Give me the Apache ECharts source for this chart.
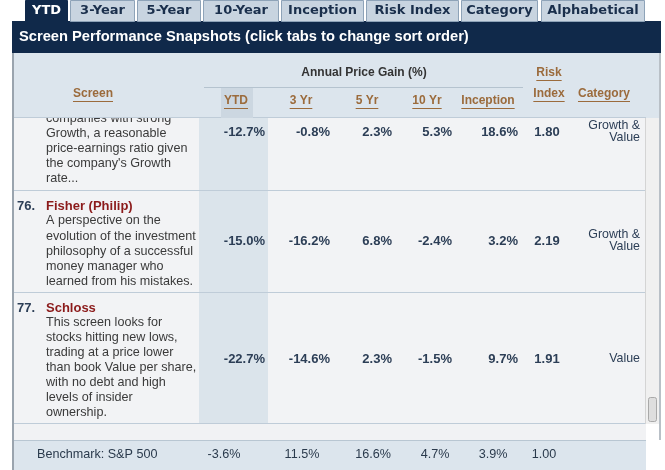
<!DOCTYPE html>
<html><head><meta charset="utf-8">
<script src="https://cdn.jsdelivr.net/npm/echarts@6/dist/echarts.min.js"></script>
<style>html,body{margin:0;padding:0;background:#fff;overflow:hidden}#c{width:665px;height:470px;}</style>
</head><body><div id="c"></div>
<script>
// ---------- data ----------
const tabs = ['YTD', '3-Year', '5-Year', '10-Year', 'Inception', 'Risk Index', 'Category', 'Alphabetical'];
const title = 'Screen Performance Snapshots (click tabs to change sort order)';
const groupHeader = 'Annual Price Gain (%)';
const columnLabels = ['YTD', '3 Yr', '5 Yr', '10 Yr', 'Inception'];
const rowNumbers = ['', '76.', '77.'];
const rowNames = ['', 'Fisher (Philip)', 'Schloss'];
const rowDescriptions = [
  ['companies with strong', 'Growth, a reasonable', 'price-earnings ratio given', 'the company\'s Growth', 'rate...'],
  ['A perspective on the', 'evolution of the investment', 'philosophy of a successful', 'money manager who', 'learned from his mistakes.'],
  ['This screen looks for', 'stocks hitting new lows,', 'trading at a price lower', 'than book Value per share,', 'with no debt and high', 'levels of insider', 'ownership.']
];
const ytd = [-12.7, -15.0, -22.7];
const yr3 = [-0.8, -16.2, -14.6];
const yr5 = [2.3, 6.8, 2.3];
const yr10 = [5.3, -2.4, -1.5];
const inception = [18.6, 3.2, 9.7];
const riskIndex = [1.80, 2.19, 1.91];
const categories = [['Growth &', 'Value'], ['Growth &', 'Value'], ['Value']];
const benchmarkLabel = 'Benchmark: S&P 500';
const benchmarkReturns = [-3.6, 11.5, 16.6, 4.7, 3.9];
const benchmarkRisk = 1.00;

// ---------- layout ----------
const L = {
  tabX: [[25, 68], [70, 135], [137, 201], [203, 279], [281, 364], [366, 459], [461, 538], [541, 645]],
  colRight: [265, 330, 392, 452, 518],
  colHeadCenter: [236, 301, 367, 427, 488],
  riskCenter: 547, catRight: 640,
  rowTop: [118, 190, 292], rowBottom: [190, 292, 423],
  descStart: [119, 221, 323], descGap: [15, 15.2, 15],
  titleY: [null, 206, 308], valueY: [132, 241, 359],
  benchX: [224, 302, 373, 435, 493, 544]
};
const F = '"Liberation Sans", Arial, sans-serif';
const C = {
  navy: '#10294a', tab: '#c8d4e0', tabBorder: '#8ea3b8', tabText: '#1a2f4c',
  head: '#dce5ed', headHi: '#ccd7e1', body: '#f2f3f5', ytdCol: '#dbe4eb',
  sep: '#bfccd8', val: '#2c3e56', desc: '#3a3a3a', name: '#8b1a1a', link: '#9b6b3c'
};

const chart = echarts.init(document.getElementById('c'), null, {renderer: 'canvas'});
const g = [];
const ctx = document.createElement('canvas').getContext('2d');
function tw(s, font) { ctx.font = font; return ctx.measureText(s).width; }
function rect(x, y, w, h, fill, z, stroke, r) {
  g.push({type: 'rect', silent: true, z: z || 0, shape: {x, y, width: w, height: h, r: r || 0},
    style: {fill, stroke: stroke || null, lineWidth: 1}});
}
function line(x1, y1, x2, y2, stroke, z, lw) {
  g.push({type: 'line', silent: true, z: z || 0, shape: {x1, y1, x2, y2}, style: {stroke, lineWidth: lw || 1}});
}
function text(s, x, y, font, fill, align, z) {
  g.push({type: 'text', silent: true, z: z || 0, x, y,
    style: {text: s, font, fill, align: align || 'left', verticalAlign: 'middle'}});
}
function link(s, cx, y, z) {
  const font = 'bold 12px ' + F;
  text(s, cx, y, font, C.link, 'center', z);
  const w = tw(s, font);
  line(cx - w / 2, y + 7.5, cx + w / 2, y + 7.5, C.link, z);
}
const pct = v => v.toFixed(1) + '%';

// body background
rect(14, 118, 632, 306, C.body, 1);
rect(199, 118, 69, 306, C.ytdCol, 2);
// row separators
for (let i = 0; i < 3; i++) line(14, L.rowBottom[i] + 0.5, 646, L.rowBottom[i] + 0.5, C.sep, 3);

// rows
const valueCols = [ytd, yr3, yr5, yr10, inception];
const descFont = '12.6px ' + F;
for (let i = 0; i < 3; i++) {
  if (rowNumbers[i]) {
    text(rowNumbers[i], 17, L.titleY[i], 'bold 13px ' + F, C.val, 'left', 4);
    text(rowNames[i], 46, L.titleY[i], 'bold 13px ' + F, C.name, 'left', 4);
  }
  rowDescriptions[i].forEach((s, k) => text(s, 46, L.descStart[i] + k * L.descGap[i], descFont, C.desc, 'left', 4));
  valueCols.forEach((arr, c) => text(pct(arr[i]), L.colRight[c], L.valueY[i], 'bold 13px ' + F, C.val, 'right', 4));
  text(riskIndex[i].toFixed(2), L.riskCenter, L.valueY[i], 'bold 13px ' + F, C.val, 'center', 4);
  const cat = categories[i];
  const catFont = '12.4px ' + F;
  if (cat.length === 2) {
    text(cat[0], L.catRight, L.valueY[i] - 6, catFont, C.val, 'right', 4);
    text(cat[1], L.catRight, L.valueY[i] + 6, catFont, C.val, 'right', 4);
  } else {
    text(cat[0], L.catRight, L.valueY[i], catFont, C.val, 'right', 4);
  }
}

// scrollbar
rect(646, 118, 14, 306, '#f0f0f0', 5);
line(645.5, 118, 645.5, 424, '#d4d4d4', 5);
rect(648.5, 397.5, 8, 24, '#dedede', 6, '#a9a9a9', 2);

// gap & benchmark
rect(14, 424, 632, 16, '#f1f2f4', 5);
rect(14, 440, 632, 30, C.head, 5);
line(14, 440.5, 646, 440.5, '#b8c6d2', 6);
const benchFont = '12.6px ' + F;
text(benchmarkLabel, 37, 455, benchFont, '#2a3a4c', 'left', 7);
benchmarkReturns.forEach((v, c) => text(pct(v), L.benchX[c], 455, benchFont, '#2a3a4c', 'center', 7));
text(benchmarkRisk.toFixed(2), L.benchX[5], 455, benchFont, '#2a3a4c', 'center', 7);

// header (drawn above body so first row is clipped)
rect(14, 53, 646, 65, C.head, 10);
line(14, 117.5, 646, 117.5, C.sep, 11);
rect(221, 87, 32, 31, C.headHi, 11);
text(groupHeader, 364, 73, 'bold 12px ' + F, '#333', 'center', 12);
line(204, 87.5, 523, 87.5, '#b5c3cf', 12);
link('Screen', 93, 94, 12);
columnLabels.forEach((s, c) => link(s, L.colHeadCenter[c], 101, 12));
link('Risk', 549, 73, 12);
link('Index', 549, 94, 12);
link('Category', 604, 94, 12);

// panel borders
rect(12, 53, 2, 417, '#9aa4ae', 20);
rect(659, 53, 2, 387, '#b9c0c7', 20);

// title bar
rect(12, 21, 649, 32, C.navy, 20);
text(title, 19, 37, 'bold 14.7px ' + F, '#ffffff', 'left', 21);

// tabs
const tabFont = 'bold 13px "DejaVu Sans", Verdana, sans-serif';
tabs.forEach((s, i) => {
  const [x0, x1] = L.tabX[i];
  const active = i === 0;
  rect(x0 + 0.5, 0.5, x1 - x0 - 1, 21, active ? C.navy : C.tab, 22, active ? C.navy : C.tabBorder);
  text(s, (x0 + x1) / 2, 11, tabFont, active ? '#ffffff' : C.tabText, 'center', 23);
});

chart.setOption({animation: false, graphic: {elements: g}});
</script>
</body></html>
